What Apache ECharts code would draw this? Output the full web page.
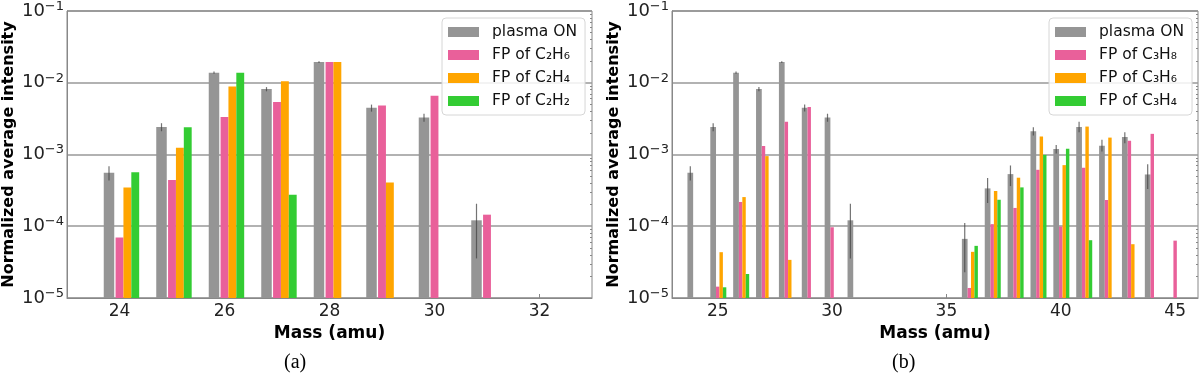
<!DOCTYPE html>
<html>
<head>
<meta charset="utf-8">
<script src="https://cdn.jsdelivr.net/npm/echarts@6/dist/echarts.min.js"></script>
<style>
	html, body { margin: 0; padding: 0; background: #fff; }
	#chart { width: 1200px; height: 377px; }
</style>
</head>
<body>
<div id="chart"></div>
<script>
/*-----data: panel (a)-----*/
var massA = [24, 25, 26, 27, 28, 29, 30, 31];
var plasmaOnA = [5.57e-4, 2.42e-3, 1.38e-2, 8.2e-3, 1.94e-2, 4.5e-3, 3.27e-3, 1.21e-4];
var plasmaLowA = [4.35e-4, 2.11e-3, 1.33e-2, 7.6e-3, 1.88e-2, 3.96e-3, 2.86e-3, 3.56e-5];
var plasmaHighA = [6.87e-4, 2.73e-3, 1.44e-2, 8.7e-3, 2.0e-2, 4.96e-3, 3.7e-3, 2.06e-4];
var fpC2H6 = [6.97e-5, 4.41e-4, 3.33e-3, 5.39e-3, 1.94e-2, 4.8e-3, 6.59e-3, 1.45e-4];
var fpC2H4 = [3.48e-4, 1.24e-3, 8.9e-3, 1.05e-2, 1.94e-2, 4.08e-4, null, null];
var fpC2H2 = [5.67e-4, 2.4e-3, 1.38e-2, 2.75e-4, null, null, null, null];
var ticksA = [24, 26, 28, 30, 32];

/*-----data: panel (b)-----*/
var massB = [24, 25, 26, 27, 28, 29, 30, 31, 32, 33, 34, 35, 36, 37, 38, 39, 40, 41, 42, 43, 44, 45];
var plasmaOnB = [5.57e-4, 2.42e-3, 1.38e-2, 8.2e-3, 1.94e-2, 4.5e-3, 3.27e-3, 1.21e-4, null, null, null, null,
	6.67e-5, 3.37e-4, 5.33e-4, 2.11e-3, 1.19e-3, 2.42e-3, 1.32e-3, 1.76e-3, 5.27e-4, null];
var plasmaLowB = [4.35e-4, 2.11e-3, 1.33e-2, 7.6e-3, 1.88e-2, 3.96e-3, 2.86e-3, 3.56e-5, null, null, null, null,
	2.28e-5, 2.11e-4, 3.63e-4, 1.84e-3, 1.03e-3, 2.04e-3, 1.1e-3, 1.43e-3, 3.3e-4, null];
var plasmaHighB = [6.87e-4, 2.73e-3, 1.44e-2, 8.7e-3, 2.0e-2, 4.96e-3, 3.7e-3, 2.06e-4, null, null, null, null,
	1.11e-4, 4.7e-4, 7.03e-4, 2.4e-3, 1.36e-3, 2.86e-3, 1.6e-3, 2.04e-3, 7.3e-4, null];
var fpC3H8 = [null, 1.44e-5, 2.18e-4, 1.31e-3, 2.87e-3, 4.59e-3, 9.68e-5, null, null, null, null, null,
	1.38e-5, 1.07e-4, 1.8e-4, 6.12e-4, 9.9e-5, 6.53e-4, 2.32e-4, 1.55e-3, 1.94e-3, 6.3e-5];
var fpC3H6 = [null, 4.35e-5, 2.55e-4, 9.5e-4, 3.4e-5, null, null, null, null, null, null, null,
	4.4e-5, 3.1e-4, 4.75e-4, 1.78e-3, 7.11e-4, 2.45e-3, 1.72e-3, 5.62e-5, null, null];
var fpC3H4 = [null, 1.41e-5, 2.16e-5, null, null, null, null, null, null, null, null, null,
	5.33e-5, 2.34e-4, 3.48e-4, 9.88e-4, 1.2e-3, 6.39e-5, null, null, null, null];
var ticksB = [25, 30, 35, 40, 45];

/*-----y axis-----*/
var yMin = 1e-5;
var yMax = 1e-1;
var minorTicks = [];
for (var d = -5; d < -1; d++) {
	for (var k = 2; k <= 9; k++) {
		minorTicks.push(k * Math.pow(10, d));
	}
}

var font = 'DejaVu Sans';
var colors = {
	gray: '#959595',
	pink: '#e9609a',
	orange: '#ffa500',
	green: '#33cc33'
};

function pairs(mass, values) {
	var out = [];
	for (var i = 0; i < mass.length; i++) {
		if (values[i] != null) out.push([mass[i], values[i]]);
	}
	return out;
}

function triples(mass, lo, hi) {
	var out = [];
	for (var i = 0; i < mass.length; i++) {
		if (lo[i] != null) out.push([mass[i], lo[i], hi[i]]);
	}
	return out;
}

function barItem(offset, width) {
	return function(params, api) {
		var m = api.value(0);
		var v = api.value(1);
		var p1 = api.coord([m + offset - width / 2, v]);
		var p2 = api.coord([m + offset + width / 2, yMin]);
		return {
			type: 'rect',
			shape: { x: p1[0], y: p1[1], width: p2[0] - p1[0], height: p2[1] - p1[1] },
			style: { fill: api.visual('color') }
		};
	};
}

function errItem(offset) {
	return function(params, api) {
		var m = api.value(0);
		var a = api.coord([m + offset, api.value(1)]);
		var b = api.coord([m + offset, api.value(2)]);
		return {
			type: 'line',
			shape: { x1: a[0], y1: a[1], x2: b[0], y2: b[1] },
			style: { stroke: '#444', lineWidth: 1.2, opacity: 0.75 }
		};
	};
}

function barSeries(name, idx, mass, values, color, offset, width) {
	return {
		name: name,
		type: 'custom',
		xAxisIndex: idx,
		yAxisIndex: idx * 2,
		clip: true,
		itemStyle: { color: color },
		renderItem: barItem(offset, width),
		encode: { x: 0, y: 1 },
		data: pairs(mass, values)
	};
}

function errSeries(idx, mass, lo, hi, offset) {
	return {
		type: 'custom',
		xAxisIndex: idx,
		yAxisIndex: idx * 2,
		clip: true,
		z: 5,
		silent: true,
		renderItem: errItem(offset),
		encode: { x: 0, y: [1, 2] },
		data: triples(mass, lo, hi)
	};
}

function xAxis(idx, min, max, ticks) {
	return {
		type: 'value',
		gridIndex: idx,
		min: min,
		max: max,
		name: 'Mass (amu)',
		nameLocation: 'middle',
		nameGap: 22,
		nameTextStyle: { fontFamily: font, fontWeight: 'bold', fontSize: 17, color: '#000' },
		axisLine: { lineStyle: { color: '#888', width: 1 } },
		axisTick: { show: true, inside: true, length: 4, customValues: ticks, lineStyle: { color: '#888' } },
		axisLabel: { customValues: ticks, fontFamily: font, fontSize: 17, color: '#222', margin: 5 },
		splitLine: { show: false }
	};
}

function yAxes(idx) {
	return [{
		type: 'log',
		logBase: 10,
		gridIndex: idx,
		min: yMin,
		max: yMax,
		name: 'Normalized average intensity',
		nameLocation: 'middle',
		nameRotate: 90,
		nameGap: 50,
		nameTextStyle: { fontFamily: font, fontWeight: 'bold', fontSize: 16, color: '#000' },
		axisLine: { show: true, lineStyle: { color: '#888', width: 1 } },
		axisTick: { show: false },
		axisLabel: {
			margin: 3,
			formatter: function(v) {
				var e = Math.round(Math.log(v) / Math.LN10);
				return '{b|10}{s|\u2212' + Math.abs(e) + '}';
			},
			rich: {
				b: { fontFamily: font, fontSize: 18, color: '#222', lineHeight: 22 },
				s: { fontFamily: font, fontSize: 13, color: '#222', verticalAlign: 'top', lineHeight: 13 }
			}
		},
		splitLine: { show: true, lineStyle: { color: '#999', width: 1.6 } }
	}, {
		type: 'log',
		logBase: 10,
		gridIndex: idx,
		min: yMin,
		max: yMax,
		axisLine: { show: false },
		axisLabel: { show: false },
		splitLine: { show: false },
		axisTick: { show: true, inside: true, length: 2, customValues: minorTicks, lineStyle: { color: '#888' } }
	}];
}

function legend(left, names) {
	return {
		left: left,
		top: 18,
		orient: 'vertical',
		data: names,
		icon: 'rect',
		itemWidth: 31,
		itemHeight: 10,
		itemGap: 7,
		padding: [6, 8, 6, 6],
		backgroundColor: 'rgba(255,255,255,0.85)',
		borderColor: '#d6d6d6',
		borderWidth: 1,
		borderRadius: 4,
		selectedMode: false,
		textStyle: { fontFamily: font, fontSize: 15.5, color: '#111', padding: [0, 0, 0, 8] }
	};
}

var chart = echarts.init(document.getElementById('chart'));
var option = {
	animation: false,
	grid: [{
		left: 63, top: 10, width: 529, height: 288,
		show: true, borderColor: '#888', borderWidth: 1
	}, {
		left: 672, top: 10, width: 526, height: 288,
		show: true, borderColor: '#888', borderWidth: 1
	}],
	xAxis: [xAxis(0, 23, 33, ticksA), xAxis(1, 23, 46, ticksB)],
	yAxis: yAxes(0).concat(yAxes(1)),
	legend: [
		legend(442, ['plasma ON', 'FP of C\u2082H\u2086', 'FP of C\u2082H\u2084', 'FP of C\u2082H\u2082']),
		legend(1049, ['plasma ON', 'FP of C\u2083H\u2088', 'FP of C\u2083H\u2086', 'FP of C\u2083H\u2084'])
	],
	series: [
		barSeries('plasma ON', 0, massA, plasmaOnA, colors.gray, -0.2, 0.2),
		barSeries('FP of C\u2082H\u2086', 0, massA, fpC2H6, colors.pink, 0, 0.15),
		barSeries('FP of C\u2082H\u2084', 0, massA, fpC2H4, colors.orange, 0.15, 0.15),
		barSeries('FP of C\u2082H\u2082', 0, massA, fpC2H2, colors.green, 0.3, 0.15),
		errSeries(0, massA, plasmaLowA, plasmaHighA, -0.2),
		barSeries('plasma ON', 1, massB, plasmaOnB, colors.gray, -0.2, 0.25),
		barSeries('FP of C\u2083H\u2088', 1, massB, fpC3H8, colors.pink, 0, 0.15),
		barSeries('FP of C\u2083H\u2086', 1, massB, fpC3H6, colors.orange, 0.15, 0.15),
		barSeries('FP of C\u2083H\u2084', 1, massB, fpC3H4, colors.green, 0.3, 0.15),
		errSeries(1, massB, plasmaLowB, plasmaHighB, -0.2)
	],
	graphic: [{
		type: 'text', left: 284, top: 353,
		style: { text: '(a)', font: '20px "Liberation Serif"', fill: '#000' }
	}, {
		type: 'text', left: 892, top: 353,
		style: { text: '(b)', font: '20px "Liberation Serif"', fill: '#000' }
	}]
};
chart.setOption(option);
</script>
</body>
</html>
